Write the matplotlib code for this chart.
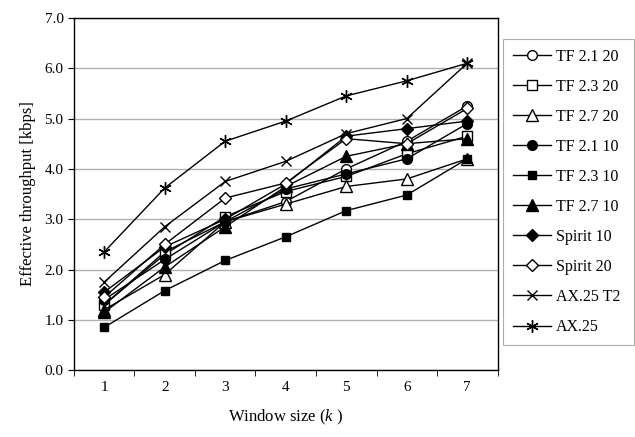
import matplotlib.pyplot as plt

# window size k
window = [1, 2, 3, 4, 5, 6, 7]

# effective throughput [kbps] per protocol / setting
tf21_20 = [1.30, 2.35, 2.95, 3.35, 4.00, 4.55, 5.25]
tf23_20 = [1.30, 2.30, 3.05, 3.55, 3.85, 4.30, 4.65]
tf27_20 = [1.20, 1.90, 2.95, 3.30, 3.65, 3.80, 4.20]
tf21_10 = [1.40, 2.20, 2.95, 3.60, 3.90, 4.20, 4.90]
tf23_10 = [0.85, 1.58, 2.18, 2.65, 3.17, 3.48, 4.20]
tf27_10 = [1.15, 2.05, 2.85, 3.65, 4.25, 4.50, 4.60]
spirit_10 = [1.55, 2.45, 3.00, 3.70, 4.65, 4.80, 4.95]
spirit_20 = [1.45, 2.50, 3.42, 3.72, 4.60, 4.50, 5.20]
ax25_t2 = [1.75, 2.85, 3.75, 4.15, 4.70, 5.00, 6.10]
ax25 = [2.35, 3.62, 4.55, 4.95, 5.45, 5.75, 6.10]

names = ["TF 2.1 20", "TF 2.3 20", "TF 2.7 20", "TF 2.1 10", "TF 2.3 10",
         "TF 2.7 10", "Spirit 10", "Spirit 20", "AX.25 T2", "AX.25"]
series = [tf21_20, tf23_20, tf27_20, tf21_10, tf23_10,
          tf27_10, spirit_10, spirit_20, ax25_t2, ax25]

# marker, filled?, size
styles = [("o", False, 7), ("s", False, 7), ("^", False, 8), ("o", True, 7), ("s", True, 6),
          ("^", True, 8), ("D", True, 6), ("D", False, 6), ("x", True, 7), ((6, 2, 0), True, 9)]

plt.rcParams['font.family'] = ['Liberation Serif', 'DejaVu Serif']
plt.rcParams['mathtext.fontset'] = 'custom'
plt.rcParams['mathtext.it'] = 'Liberation Serif:italic'
plt.rcParams['mathtext.rm'] = 'Liberation Serif'

fig = plt.figure(figsize=(6.35, 4.37), dpi=100)
ax = fig.add_axes([0.1165, 0.153, 0.667, 0.806])

for name, vals, (m, filled, ms) in zip(names, series, styles):
    ax.plot(window, vals, color="black", linewidth=1.0, marker=m, markersize=ms,
            markerfacecolor="black" if filled else "white", markeredgecolor="black",
            markeredgewidth=1.0, label=name)

ax.set_xlim(0.5, 7.5)
ax.set_ylim(0, 7)
ax.set_yticks([i * 1.0 for i in range(8)])
ax.set_yticklabels(["%.1f" % (i * 1.0) for i in range(8)], fontsize=11)
ax.set_xticks(window)
ax.set_xticklabels([str(w) for w in window], fontsize=11)
ax.tick_params(axis="x", which="major", length=0, pad=8)
ax.set_xticks([0.5 + i for i in range(8)], minor=True)
ax.tick_params(axis="x", which="minor", length=4, direction="out")
ax.tick_params(axis="y", length=4, direction="out")
ax.yaxis.grid(True, color="#b0b0b0", linewidth=1.0)
ax.set_axisbelow(True)
for s in ax.spines.values():
    s.set_linewidth(1.0)

ax.set_ylabel("Effective throughput [kbps]", fontsize=12, labelpad=6)
ax.set_xlabel("Window size ($k$ )", fontsize=12, labelpad=10)

leg = ax.legend(loc="upper left", bbox_to_anchor=(1.013, 0.94, 0.31, 0), mode="expand",
                fontsize=11.5, frameon=True, fancybox=False, edgecolor="#999999",
                borderpad=0.6, labelspacing=0.88, handlelength=2.4, handletextpad=0.3,
                borderaxespad=0)
leg.get_frame().set_linewidth(0.8)

plt.savefig("out.png", dpi=100)
